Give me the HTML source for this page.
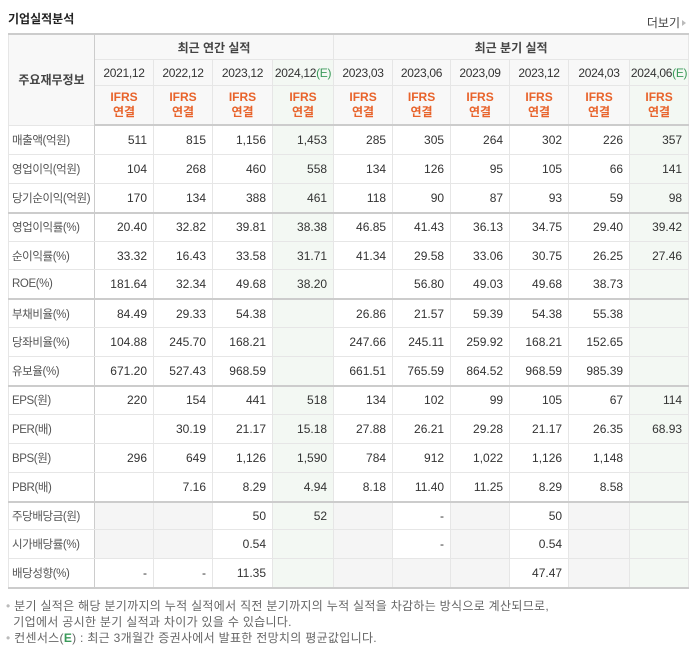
<!DOCTYPE html>
<html><head><meta charset="utf-8">
<style>
body{margin:0;background:#fff;font-family:"Liberation Sans","Noto Sans CJK KR",sans-serif;}
#wrap{position:relative;width:694px;height:648px;overflow:hidden}
#title{position:absolute;left:8px;top:10px;font-size:12px;font-weight:bold;color:#222}
#more{position:absolute;right:8px;top:14px;font-size:12px;color:#444}
#more span{display:inline-block;width:0;height:0;border-left:4px solid #bbb;border-top:3px solid transparent;border-bottom:3px solid transparent;margin-left:2px;vertical-align:1px}
table{position:absolute;left:8px;top:33px;border-collapse:collapse;table-layout:fixed;width:680px;font-size:12px;color:#333}
td,th{border:1px solid #e6e6e6;padding:0;overflow:hidden;white-space:nowrap}
th{background:#f8f8f8;font-weight:normal;color:#333;text-align:center}
tr.h1 th{height:24px;font-weight:bold;color:#444}
tr.h2 th{height:25px;letter-spacing:-0.3px}
tr.h3 th{height:38px;color:#e8632b;line-height:15px;font-weight:bold;font-size:12px}
td{height:27.9px;text-align:right;padding-right:6px}
tr.sep td{height:26.9px}
td.lab{text-align:left;padding-left:3px;color:#555;padding-right:0;font-size:11.5px;letter-spacing:-0.4px}
.e{background:#f3f8f3}
.g{background:#f5f5f5}
.E{color:#3a9a5a}
tr.sep td{border-top:2px solid #ccc}
table tr:first-child th{border-top:2px solid #ccc}
.lc{border-right:1px solid #ccc}
.qc{border-left:1px solid #ccc}
tr.h3 th{border-bottom:2px solid #ccc}
table{border-bottom:2px solid #ccc}
#notes{position:absolute;left:6px;top:598px;font-size:12px;color:#666;line-height:16px;letter-spacing:0.3px}
#notes .b{color:#bbb}
#notes .E{color:#3a9a5a;font-weight:bold}
</style></head><body>
<div id="wrap">
<div id="title">기업실적분석</div>
<div id="more">더보기<span></span></div>
<table id="tbl">
<colgroup><col style="width:86px"><col style="width:59px"><col style="width:59px"><col style="width:60px"><col style="width:61px"><col style="width:59px"><col style="width:58px"><col style="width:59px"><col style="width:59px"><col style="width:61px"><col style="width:59px"></colgroup>
<tbody id="tb"></tbody>
</table>
<div id="notes">
<div><span class="b">•</span> 분기 실적은 해당 분기까지의 누적 실적에서 직전 분기까지의 누적 실적을 차감하는 방식으로 계산되므로,</div>
<div>&nbsp;&nbsp;기업에서 공시한 분기 실적과 차이가 있을 수 있습니다.</div>
<div><span class="b">•</span> 컨센서스(<span class="E">E</span>) : 최근 3개월간 증권사에서 발표한 전망치의 평균값입니다.</div>
</div>
</div>
<script>
const periods=["2021.12","2022.12","2023.12","2024.12","2023.03","2023.06","2023.09","2023.12","2024.03","2024.06"];
const estimateCols=[3,9];
const rowLabels=["매출액(억원)","영업이익(억원)","당기순이익(억원)","영업이익률(%)","순이익률(%)","ROE(%)","부채비율(%)","당좌비율(%)","유보율(%)","EPS(원)","PER(배)","BPS(원)","PBR(배)","주당배당금(원)","시가배당률(%)","배당성향(%)"];
const values=[
["511","815","1,156","1,453","285","305","264","302","226","357"],
["104","268","460","558","134","126","95","105","66","141"],
["170","134","388","461","118","90","87","93","59","98"],
["20.40","32.82","39.81","38.38","46.85","41.43","36.13","34.75","29.40","39.42"],
["33.32","16.43","33.58","31.71","41.34","29.58","33.06","30.75","26.25","27.46"],
["181.64","32.34","49.68","38.20","","56.80","49.03","49.68","38.73",""],
["84.49","29.33","54.38","","26.86","21.57","59.39","54.38","55.38",""],
["104.88","245.70","168.21","","247.66","245.11","259.92","168.21","152.65",""],
["671.20","527.43","968.59","","661.51","765.59","864.52","968.59","985.39",""],
["220","154","441","518","134","102","99","105","67","114"],
["","30.19","21.17","15.18","27.88","26.21","29.28","21.17","26.35","68.93"],
["296","649","1,126","1,590","784","912","1,022","1,126","1,148",""],
["","7.16","8.29","4.94","8.18","11.40","11.25","8.29","8.58",""],
["","","50","52","","-","","50","",""],
["","","0.54","","","-","","0.54","",""],
["-","-","11.35","","","","","47.47","",""]
];
const grayCells=[[13,0],[13,1],[13,4],[13,6],[13,8],[13,9],[14,0],[14,1],[14,4],[14,6],[14,8],[14,9],[15,4],[15,5],[15,6],[15,8],[15,9]];
const groupStarts=[3,6,9,13];
const tb=document.getElementById('tb');
let h='<tr class="h1"><th rowspan="3" class="lc">주요재무정보</th><th colspan="4">최근 연간 실적</th><th colspan="6" class="qc">최근 분기 실적</th></tr><tr class="h2">';
periods.forEach((p,i)=>{const e=estimateCols.includes(i);h+='<th class="'+(e?'e ':'')+(i==4?'qc':'')+'">'+p.replace('.',',')+(e?'<span class="E">(E)</span>':'')+'</th>';});
h+='</tr><tr class="h3">';
periods.forEach((p,i)=>{h+='<th class="'+(estimateCols.includes(i)?'e ':'')+(i==4?'qc':'')+'">IFRS<br>연결</th>';});
h+='</tr>';
tb.innerHTML=h;
rowLabels.forEach((lab,r)=>{
  const tr=document.createElement('tr');
  if(groupStarts.includes(r))tr.className='sep';
  
  
  const l=document.createElement('td');l.className='lab lc';l.textContent=lab;
  
  
  tr.appendChild(l);
  values[r].forEach((v,c)=>{
    const td=document.createElement('td');
    let cls=[];
    if(estimateCols.includes(c))cls.push('e');
    else if(grayCells.some(g=>g[0]==r&&g[1]==c))cls.push('g');
    if(c==4)cls.push('qc');
    td.className=cls.join(' ');
    td.textContent=v;
    
    
    tr.appendChild(td);
  });
  tb.appendChild(tr);
});
</script>
</body></html>
